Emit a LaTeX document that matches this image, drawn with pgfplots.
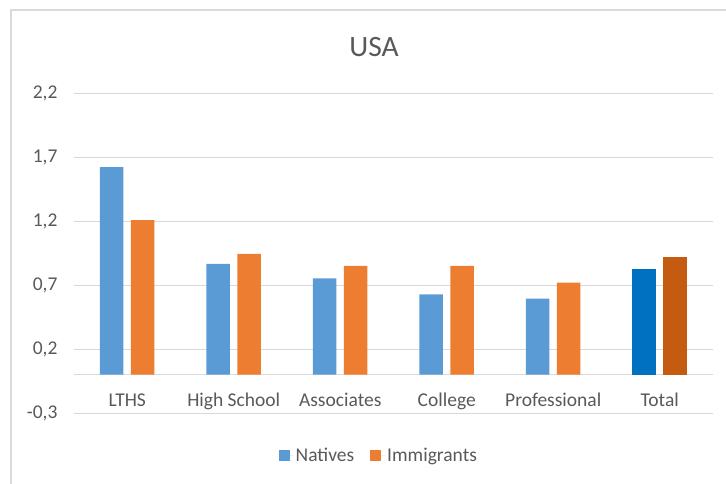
\documentclass[border=0pt]{standalone}
\usepackage{pgfplots}
\pgfplotsset{compat=1.18}
\usepackage{fontspec}
\setmainfont{Carlito}
\definecolor{nat}{HTML}{5B9BD5}
\definecolor{imm}{HTML}{ED7D31}
\definecolor{natT}{HTML}{0070C0}
\definecolor{immT}{HTML}{C55A11}
\definecolor{gridgray}{HTML}{D9D9D9}
\definecolor{txtgray}{HTML}{595959}
\definecolor{framegray}{HTML}{D9D9D9}
\begin{document}
\begin{tikzpicture}[x=1pt,y=1pt]
\useasboundingbox (-74,-70) rectangle (652,413);
\draw[framegray, line width=1.2pt] (-63,-120) -- (-63,403) -- (720,403);
\node[anchor=base, text=txtgray, font=\fontsize{29.5}{34}\selectfont] at (300,356) {USA};
\begin{axis}[
  scale only axis, width=639pt, height=320pt,
  xmin=-0.5, xmax=5.5, ymin=-0.3, ymax=2.2,
  ytick={-0.3,0.2,0.7,1.2,1.7,2.2},
  xtick={0,1,2,3,4,5},
  xticklabels={LTHS,High School,Associates,College,Professional,Total},
  axis line style={draw=none},
  major tick length=0pt,
  ymajorgrids, grid style={gridgray, line width=1pt},
  extra y ticks={0}, extra y tick labels={},
  extra y tick style={grid style={gridgray, line width=1pt}},
  /pgf/number format/.cd, use comma, fixed, fixed zerofill, precision=1, assume math mode=true,
  /pgfplots/.cd,
  tick label style={text=txtgray, font=\fontsize{19.5}{22}\selectfont},
  yticklabel style={anchor=east, xshift=-13pt},
  xticklabel style={anchor=base, yshift=7pt},
  legend style={at={(0.477,-0.134)}, anchor=center, draw=none, fill=none,
    legend columns=-1, font=\fontsize{19.5}{22}\selectfont, text=txtgray,
    /tikz/every even column/.append style={column sep=14pt}},
  legend image code/.code={\fill[#1] (0pt,-5.5pt) rectangle (11pt,5.5pt); \path (0pt,0pt) -- (15pt,0pt);},
]
\addplot[ybar, bar width=23.5pt, bar shift=-15.5pt, fill=nat, draw=none]
  coordinates {(0,1.62) (1,0.865) (2,0.751) (3,0.627) (4,0.593)};
\addlegendentry{Natives}
\addplot[ybar, bar width=23.5pt, bar shift=15.5pt, fill=imm, draw=none]
  coordinates {(0,1.207) (1,0.943) (2,0.85) (3,0.85) (4,0.718)};
\addlegendentry{Immigrants}
\addplot[ybar, bar width=23.5pt, bar shift=-15.5pt, fill=natT, draw=none, forget plot]
  coordinates {(5,0.826)};
\addplot[ybar, bar width=23.5pt, bar shift=15.5pt, fill=immT, draw=none, forget plot]
  coordinates {(5,0.917)};
\end{axis}
\end{tikzpicture}
\end{document}
